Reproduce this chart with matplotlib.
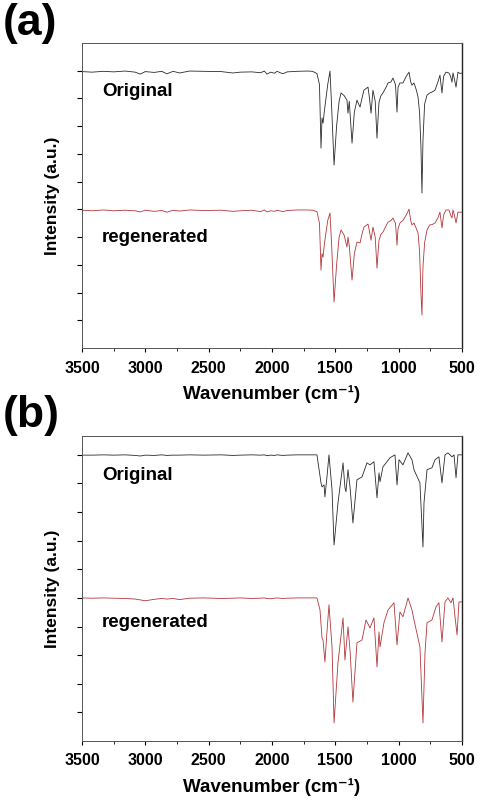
import matplotlib
matplotlib.use("Agg")
import matplotlib.pyplot as plt
from matplotlib.ticker import MultipleLocator

plt.rcParams['font.family'] = ['Liberation Sans', 'DejaVu Sans']
plt.rcParams['font.weight'] = 'bold'

# ---- data (wavenumber, intensity in arbitrary units) ----
base_wn = [3500, 3420, 3330, 3250, 3160, 3080, 3040, 3000, 2930, 2870, 2830, 2780,
           2730, 2650, 2540, 2400, 2310, 2250, 2160, 2090, 2060, 2040, 2010, 1980,
           1960, 1915, 1880, 1800, 1720, 1680]

peak_wn_a = [1645, 1625, 1613, 1605, 1597, 1585, 1560, 1542, 1530, 1510, 1490, 1470,
             1455, 1430, 1408, 1400, 1390, 1368, 1350, 1329, 1305, 1290, 1274, 1242,
             1230, 1218, 1203, 1185, 1171, 1160, 1155, 1140, 1124, 1100, 1084, 1060,
             1045, 1025, 1013, 1005, 990, 966, 940, 918, 905, 895, 879, 860, 847, 835,
             824, 816, 808, 795, 776, 755, 737, 713, 690, 674, 658, 645, 626, 603, 590,
             579, 571, 560, 547, 532, 515, 500]

a_orig = ([9.97, 9.95, 9.98, 9.96, 9.99, 9.95, 9.88, 9.97, 9.94, 9.98, 9.89, 9.98,
           9.92, 9.99, 9.98, 9.97, 9.92, 9.95, 9.96, 9.93, 9.99, 9.88, 9.95, 9.91,
           9.98, 9.89, 9.96, 9.98, 9.99, 9.98] +
          [9.90, 9.50, 7.21, 8.30, 8.11, 8.60, 9.50, 9.99, 8.80, 6.60, 8.00, 8.90,
           9.20, 9.10, 8.94, 8.47, 8.90, 7.39, 8.50, 8.94, 8.69, 9.00, 9.30, 9.41,
           9.00, 8.47, 9.30, 8.90, 7.57, 8.50, 8.87, 9.10, 9.20, 9.40, 9.56, 9.60,
           9.74, 9.50, 8.51, 9.40, 9.56, 9.56, 9.80, 9.95, 9.60, 9.48, 9.56, 9.30,
           9.05, 8.50, 7.25, 5.59, 7.50, 8.80, 9.12, 9.20, 9.23, 9.30, 9.60, 9.84,
           9.20, 9.80, 9.95, 9.92, 9.80, 9.59, 9.92, 9.70, 9.41, 9.95, 9.90, 9.92])

a_regen = ([4.97, 4.95, 4.98, 4.95, 4.97, 4.95, 4.91, 4.97, 4.93, 4.96, 4.90, 4.97,
            4.94, 4.98, 4.96, 4.97, 4.93, 4.95, 4.97, 4.92, 4.98, 4.91, 4.95, 4.93,
            4.97, 4.92, 4.96, 4.98, 4.98, 4.97] +
           [4.92, 4.50, 2.81, 3.40, 3.28, 3.80, 4.60, 4.87, 3.80, 1.66, 3.00, 4.00,
            4.26, 4.07, 3.64, 4.00, 3.70, 2.45, 3.40, 3.82, 3.79, 4.10, 4.36, 4.47,
            4.20, 3.89, 4.36, 4.00, 2.88, 3.60, 3.89, 4.10, 4.18, 4.40, 4.54, 4.60,
            4.69, 4.50, 3.71, 4.30, 4.51, 4.60, 4.80, 5.01, 4.60, 4.44, 4.51, 4.30,
            4.15, 3.50, 1.98, 1.19, 2.92, 3.80, 4.26, 4.44, 4.45, 4.51, 4.70, 4.90,
            4.33, 4.80, 4.98, 4.98, 4.80, 4.69, 4.98, 4.80, 4.51, 4.90, 4.90, 4.90])

peak_wn_b_orig = [1645, 1613, 1605, 1589, 1582, 1566, 1550, 1526, 1510, 1479, 1439,
                  1424, 1416, 1400, 1384, 1361, 1329, 1289, 1250, 1226, 1195, 1171,
                  1155, 1147, 1124, 1068, 1029, 1013, 997, 966, 926, 895, 879, 832,
                  808, 800, 776, 737, 713, 682, 658, 634, 611, 579, 563, 547, 532, 500]

b_orig = ([9.99, 9.99, 10.0, 9.99, 10.0, 9.98, 9.96, 9.99, 9.98, 10.0, 9.98, 9.99,
           9.99, 10.0, 9.99, 10.0, 9.98, 9.99, 10.0, 9.99, 10.0, 9.97, 9.99, 9.98,
           10.0, 9.98, 9.99, 10.0, 10.0, 10.0] +
          [10.0, 9.02, 8.88, 8.95, 8.53, 9.23, 10.0, 8.78, 6.85, 8.32, 9.72, 8.85,
           8.71, 9.48, 8.88, 7.62, 9.13, 9.23, 9.72, 9.65, 9.76, 8.50, 9.37, 9.06,
           9.58, 9.90, 10.0, 8.95, 9.83, 9.65, 10.07, 9.83, 9.48, 9.02, 6.78, 8.32,
           9.48, 9.55, 9.83, 9.93, 9.02, 10.0, 10.07, 9.93, 10.0, 9.20, 10.0, 10.0])

peak_wn_b_regen = [1645, 1621, 1605, 1597, 1582, 1566, 1550, 1526, 1510, 1479, 1439,
                   1424, 1400, 1384, 1361, 1329, 1289, 1258, 1226, 1195, 1171, 1155,
                   1147, 1116, 1084, 1037, 1013, 990, 966, 926, 895, 879, 832, 808,
                   792, 776, 737, 705, 682, 658, 634, 611, 587, 571, 555, 539, 524, 500]

b_regen = ([5.0, 4.99, 5.0, 4.99, 4.98, 4.96, 4.93, 4.90, 4.95, 4.98, 4.96, 4.98,
            4.94, 4.99, 5.0, 4.98, 4.99, 5.0, 4.98, 4.99, 5.0, 4.98, 4.97, 4.99,
            5.0, 4.98, 4.99, 5.0, 5.0, 5.0] +
           [5.0, 4.58, 3.60, 3.53, 2.76, 3.81, 4.76, 3.29, 0.63, 2.73, 4.30, 2.83,
            3.99, 3.18, 1.36, 3.43, 3.53, 4.23, 3.95, 4.30, 2.59, 3.81, 3.29, 4.13,
            4.58, 4.83, 3.36, 4.51, 4.34, 5.0, 4.58, 4.23, 3.29, 0.63, 3.08, 4.13,
            4.23, 4.69, 4.83, 3.46, 4.86, 5.0, 4.83, 5.0, 4.34, 3.71, 4.86, 4.86])

panels = [
    ('(a)', base_wn + peak_wn_a, a_orig, base_wn + peak_wn_a, a_regen, 11.0,
     [0.1715, 0.5698, 0.795, 0.377], 0.996, (9.25, 3.97)),
    ('(b)', base_wn + peak_wn_b_orig, b_orig, base_wn + peak_wn_b_regen, b_regen, 10.66,
     [0.1715, 0.0841, 0.795, 0.377], 0.512, (9.27, 4.13)),
]

fig = plt.figure(figsize=(4.78, 8.09), dpi=100)

for tag, wn_o, y_o, wn_r, y_r, ytop, pos, tag_y, label_y in panels:
    ax = fig.add_axes(pos)
    ax.plot(wn_o, y_o, color='#2a2a2a', lw=0.6)
    ax.plot(wn_r, y_r, color='#b3363a', lw=0.6)

    ax.set_xlim(3500, 500)
    ax.set_ylim(0, ytop)
    ax.xaxis.set_major_locator(MultipleLocator(500))
    ax.xaxis.set_minor_locator(MultipleLocator(250))
    ax.set_yticks(range(1, 11))
    ax.set_yticklabels([])
    ax.tick_params(axis='x', which='major', direction='out', length=3, width=0.8,
                   labelsize=11.5, pad=6)
    ax.tick_params(axis='x', which='minor', direction='out', length=2, width=0.6)
    ax.tick_params(axis='y', direction='out', length=3.5, width=0.8)
    for lab in ax.get_xticklabels():
        lab.set_fontweight('bold')
    for side in ['top', 'left', 'bottom']:
        ax.spines[side].set_linewidth(0.7)
        ax.spines[side].set_color('#555555')
    ax.spines['right'].set_linewidth(1.0)
    ax.spines['right'].set_color('#222222')

    ax.text(3340, label_y[0], 'Original', fontsize=13.5,
            fontweight='bold', va='center', ha='left')
    ax.text(3340, label_y[1], 'regenerated', fontsize=13.5,
            fontweight='bold', va='center', ha='left')

    ax.set_ylabel('Intensity (a.u.)', fontsize=12.5, fontweight='bold', labelpad=9)
    ax.set_xlabel('Wavenumber (cm\u207b\u00b9)', fontsize=13.5,
                  fontweight='bold', labelpad=7)

    fig.text(0.006, tag_y, tag, fontsize=32, fontweight='bold', va='top', ha='left')

fig.savefig('out.png', dpi=100)
